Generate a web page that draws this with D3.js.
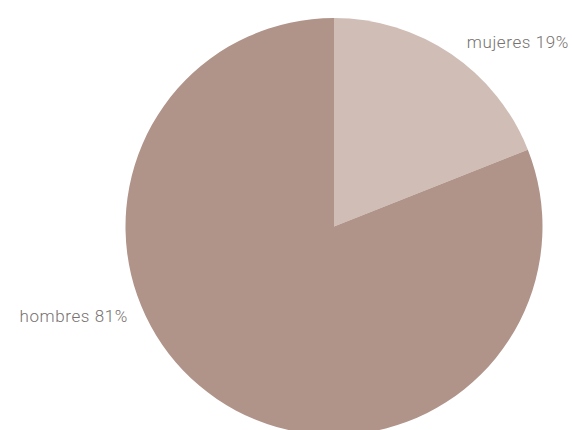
<!DOCTYPE html>
<html><head><meta charset="utf-8">
<script src="https://cdn.jsdelivr.net/npm/d3@7"></script>
<style>body{margin:0;background:#fff;}svg{display:block;}</style>
</head><body>
<svg id="c" width="572" height="430"></svg>
<script>
const categories = ["mujeres", "hombres"];
const values = [19, 81];
const colors = ["#cfbdb6", "#b09389"];

const svg = d3.select("#c");
const cx = 334, cy = 226.5, r = 208.5;
const pie = d3.pie().sort(null).value(d => d.v);
const arcs = pie(categories.map((c,i)=>({c, v: values[i], col: colors[i]})));
const arc = d3.arc().innerRadius(0).outerRadius(r);
const g = svg.append("g").attr("transform", `translate(${cx},${cy})`);
g.selectAll("path").data(arcs).join("path").attr("d", arc).attr("fill", d => d.data.col);

const labelPos = [{x:569, y:48}, {x:128, y:322}];
svg.selectAll("text.lbl").data(arcs).join("text").attr("class","lbl")
  .attr("x",(d,i)=>labelPos[i].x).attr("y",(d,i)=>labelPos[i].y)
  .attr("text-anchor","end")
  .attr("font-family","Roboto, 'Open Sans', sans-serif")
  .attr("font-size","17px")
  .attr("font-weight","300")
  .attr("letter-spacing","0.6px")
  .attr("fill","#77726f")
  .text(d => `${d.data.c} ${d.data.v}%`);
</script>
</body></html>
